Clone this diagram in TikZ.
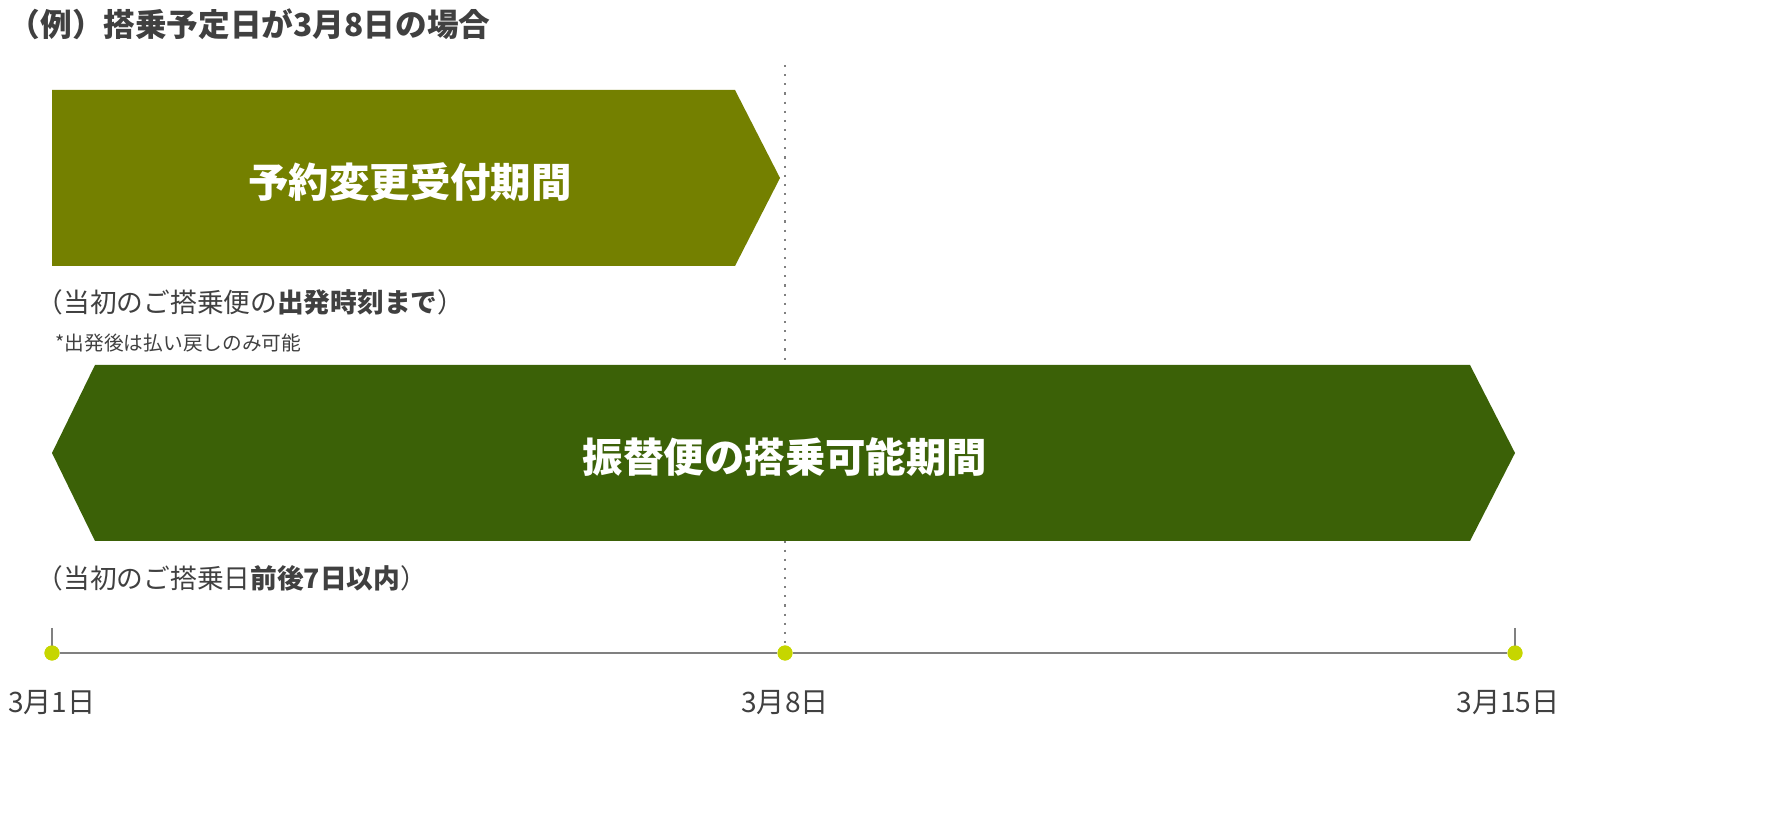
\documentclass[tikz,border=0pt]{standalone}
\usepackage{fontspec}
\setmainfont{Noto Sans CJK JP}
\usetikzlibrary{positioning}
\definecolor{olivebar}{HTML}{748000}
\definecolor{greenbar}{HTML}{3B6107}
\definecolor{dotcol}{HTML}{C6D600}
\definecolor{txtgray}{HTML}{404040}
\begin{document}
\begin{tikzpicture}[x=0.01cm,y=-0.01cm]
\tikzstyle{bartext}=[text=white,font=\fontsize{11.5}{13}\selectfont\bfseries]
\tikzstyle{note}=[text=txtgray,anchor=west,inner sep=0pt,font=\fontsize{7.6}{9}\selectfont]
\tikzstyle{date}=[text=txtgray,inner sep=0pt,font=\fontsize{8}{10}\selectfont]
\tikzstyle{dot}=[circle,fill=dotcol,inner sep=0pt,minimum size=0.15cm]
\useasboundingbox (0,0) rectangle (1770,816);
\node[note,font=\fontsize{9}{11}\selectfont\bfseries] (title) at (8,24) {（例）搭乗予定日が3月8日の場合};
% guide line
\draw[gray,dotted,line width=0.6pt] (785,65) -- (785,653);
% bars
\fill[olivebar] (52,90) -- (735,90) -- (780,178) -- (735,266) -- (52,266) -- cycle;
\node[bartext] (change) at (410,182) {予約変更受付期間};
\fill[greenbar] (52,453) -- (95,365) -- (1470,365) -- (1515,453) -- (1470,541) -- (95,541) -- cycle;
\node[bartext] (board) at (785,457) {振替便の搭乗可能期間};
\node[note] (untilnote) at (36,302) {（当初のご搭乗便の\textbf{出発時刻まで}）};
\node[note,font=\fontsize{5.6}{7}\selectfont] (refund) at (55,343) {*出発後は払い戻しのみ可能};
\node[note] (rangenote) at (36,578) {（当初のご搭乗日\textbf{前後7日以内}）};
% timeline
\node[dot] (d1) at (52,653) {};
\node[dot] (d8) at (785,653) {};
\node[dot] (d15) at (1515,653) {};
\coordinate (t1) at (52,628);
\coordinate (t15) at (1515,628);
\draw[gray,line width=0.6pt] (d1) -- (d8) -- (d15);
\draw[gray,line width=0.6pt] (t1) -- (d1.center) (t15) -- (d15.center);
\node[dot] at (52,653) {};
\node[dot] at (785,653) {};
\node[dot] at (1515,653) {};
\node[date] (l1) at (52,703) {3月1日};
\node[date] (l8) at (785,703) {3月8日};
\node[date] (l15) at (1508,703) {3月15日};
\end{tikzpicture}
\end{document}
